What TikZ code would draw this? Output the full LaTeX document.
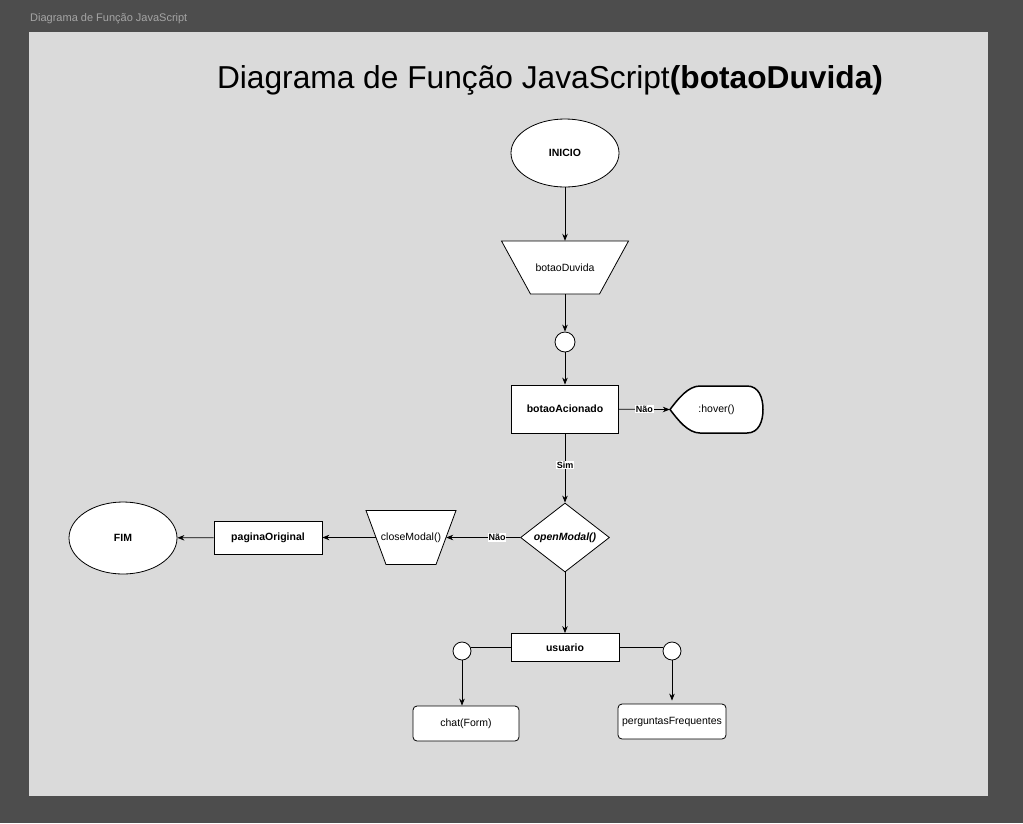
\documentclass[tikz,border=0pt]{standalone}
\usepackage{fontspec}
\setmainfont{Liberation Sans}
\usetikzlibrary{shapes.geometric,arrows.meta}
\definecolor{frameGray}{RGB}{77,77,77}
\definecolor{panelGray}{RGB}{218,218,218}
\definecolor{headGray}{RGB}{165,165,165}

\begin{document}
\begin{tikzpicture}[x=1pt,y=1pt,yscale=-1,xscale=1,
  nodetext/.style={font=\fontsize{10.5}{12}\selectfont},
  boldtext/.style={font=\fontsize{10.5}{12}\selectfont\bfseries},
  shapebox/.style={draw,fill=white,line width=0.8pt,inner sep=1pt},
  rectbox/.style={shapebox,rectangle,minimum width=107,minimum height=#1},
  roundbox/.style={shapebox,rectangle,rounded corners=4pt,minimum width=107,minimum height=35,nodetext},
  ovalbox/.style={shapebox,ellipse,minimum width=108,minimum height=#1,boldtext},
  trapline/.style={draw,fill=white,line width=0.8pt},
  traptext/.style={rectangle,inner sep=0pt,nodetext},
  joint/.style={shapebox,circle,minimum size=#1,inner sep=0pt},
  edgelabel/.style={fill=white,inner sep=0.8pt,font=\fontsize{9}{10}\selectfont\bfseries},
  flow/.style={line width=0.8pt,-{Stealth[length=7pt,width=5.5pt]}},
  plain/.style={line width=0.8pt}
]
%uncomment if require: \path (0,823); %set diagram left start at 0, and has height of 823
\useasboundingbox (0,0) rectangle (1023,823);
\fill[frameGray] (0,0) rectangle (1023,823);
\fill[panelGray] (29,32) rectangle (988,796);

% Text Node
\node[anchor=base west,inner sep=0pt,text=headGray,font=\fontsize{11}{13}\selectfont] (header) at (30,21) {Diagrama de Função JavaScript};
% Text Node
\node[anchor=base,inner sep=0pt,font=\fontsize{31.7}{36}\selectfont] (title) at (550,88) {Diagrama de Função JavaScript\textbf{(botaoDuvida)}};

%Shape: Ellipse
\node[ovalbox=68] (inicio) at (565,153) {INICIO};
%Shape: Trapezoid
\draw[trapline] (501.5,241) -- (628.5,241) -- (599.5,294) -- (530.5,294) -- cycle;
\node[traptext,minimum width=98,minimum height=53] (botaoDuvida) at (565,267.5) {botaoDuvida};
%Shape: Circle
\node[joint=20] (joint1) at (565,342) {};
%Shape: Rectangle
\node[rectbox=48,boldtext] (botaoAcionado) at (565,409) {botaoAcionado};
%Shape: Display
\draw[line width=1.5pt,fill=white] (670,409.5) .. controls (678,399) and (688,386) .. (700,386) -- (747,386)
  .. controls (759,386) and (763,398) .. (763,409.5) .. controls (763,421) and (759,433) .. (747,433)
  -- (700,433) .. controls (688,433) and (678,420) .. (670,409.5) -- cycle;
\node[nodetext,minimum width=93,minimum height=47,inner sep=0pt] (hover) at (716.5,409.5) {:hover()};
%Shape: Diamond
\node[shapebox,diamond,minimum width=89,minimum height=69,font=\fontsize{10.5}{12}\selectfont\bfseries\itshape] (openModal) at (565,537.5) {\makebox[0pt]{openModal()}};
%Shape: Trapezoid
\draw[trapline] (366,510.5) -- (456,510.5) -- (436,564.5) -- (386,564.5) -- cycle;
\node[traptext,minimum width=70,minimum height=54] (closeModal) at (411,537.5) {\makebox[0pt]{closeModal()}};
%Shape: Rectangle
\node[rectbox=33,boldtext,minimum width=108] (paginaOriginal) at (268,537.5) {paginaOriginal};
%Shape: Ellipse
\node[ovalbox=72] (fim) at (123,538) {FIM};
%Shape: Rectangle
\node[rectbox=28,boldtext,minimum width=108] (usuario) at (565,647.5) {usuario};
%Shape: Circle
\node[joint=18] (jointLeft) at (462,651) {};
%Shape: Circle
\node[joint=18] (jointRight) at (672,651) {};
%Shape: Rounded Rectangle
\node[roundbox,minimum width=106] (chat) at (466,723.5) {chat(Form)};
%Shape: Rounded Rectangle
\node[roundbox,minimum width=108] (perguntas) at (672,721.5) {perguntasFrequentes};

%Connectors
\draw[flow] (inicio) -- (botaoDuvida);
\draw[flow] (botaoDuvida) -- (joint1);
\draw[flow] (joint1) -- (botaoAcionado);
\draw[flow] (botaoAcionado) -- node[edgelabel] {Não} (hover.west);
\draw[flow] (botaoAcionado) -- node[edgelabel,pos=0.46] {Sim} (openModal);
\draw[flow] (openModal) -- node[edgelabel,pos=0.31] {Não} (closeModal);
\draw[flow] (closeModal) -- (paginaOriginal);
\draw[flow] (paginaOriginal) -- (fim);
\draw[flow] (openModal) -- (usuario);
\draw[plain] (usuario.west) -- (usuario.west -| jointLeft.east);
\draw[plain] (usuario.east) -- (usuario.east -| jointRight.west);
\draw[flow] (jointLeft) -- (jointLeft |- chat.north);
\draw[flow] (jointRight) -- ([yshift=-3pt]perguntas.north);

\end{tikzpicture}
\end{document}
